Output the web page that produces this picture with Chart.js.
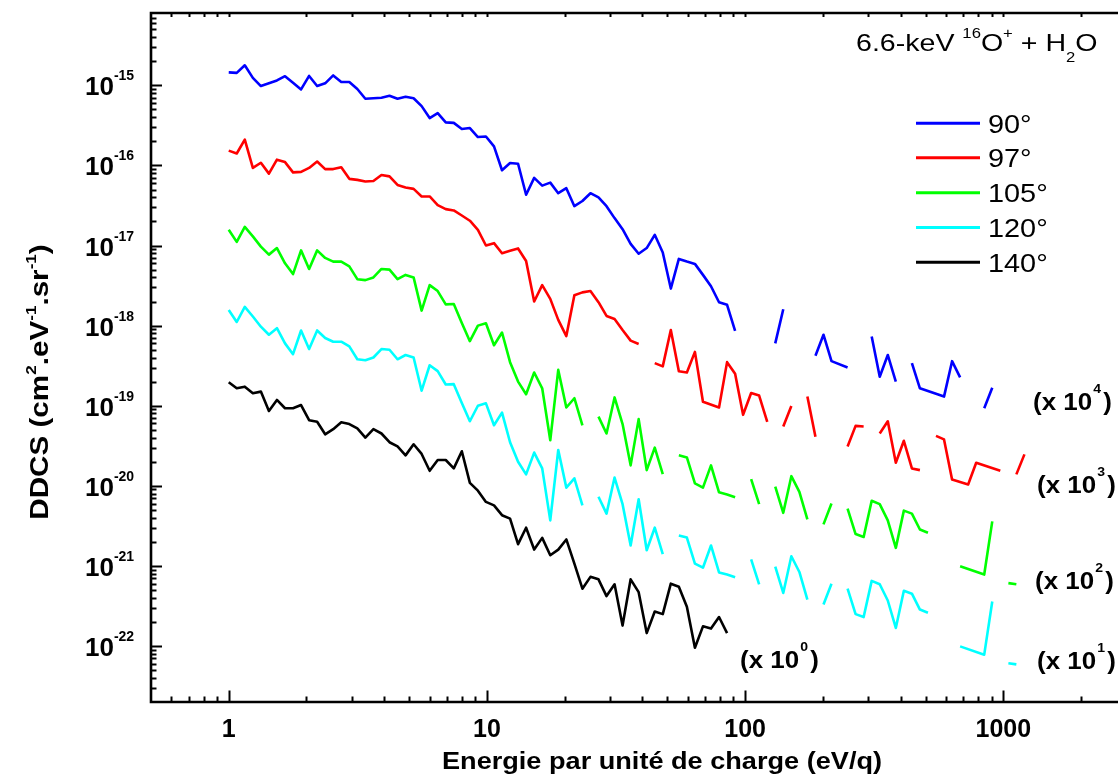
<!DOCTYPE html>
<html>
<head>
<meta charset="utf-8">
<title>DDCS 6.6-keV O+ + H2O</title>
<script src="https://cdn.jsdelivr.net/npm/chart.js"></script>
<style>
  html, body { margin: 0; padding: 0; background: #fff; overflow: hidden; }
  canvas { display: block; }
</style>
</head>
<body>
<canvas id="ddcs" width="1118" height="782"></canvas>
<script>
// energy grid (eV/q), one entry per channel
const energies = [
  1, 1.074, 1.154, 1.240, 1.332, 1.431, 1.537, 1.652, 1.774, 1.906,
  2.048, 2.200, 2.363, 2.539, 2.728, 2.931, 3.148, 3.382, 3.634, 3.904,
  4.194, 4.505, 4.840, 5.200, 5.586, 6.001, 6.447, 6.926, 7.441, 7.994,
  8.588, 9.226, 9.912, 10.65, 11.44, 12.29, 13.20, 14.18, 15.24, 16.37,
  17.59, 18.89, 20.30, 21.81, 23.43, 25.17, 27.04, 29.05, 31.21, 33.52,
  36.02, 38.69, 41.57, 44.66, 47.97, 51.54, 55.37, 59.48, 63.90, 68.65,
  73.75, 79.23, 85.12, 91.45, 98.19, 105.5, 113.3, 121.8, 130.8, 140.5,
  151.0, 162.2, 174.2, 187.2, 201.1, 216.0, 232.1, 249.3, 267.8, 287.7,
  309.1, 332.1, 356.8, 383.3, 411.8, 442.4, 475.2, 510.5, 548.5, 589.2,
  633.0, 680.1, 730.6, 784.9, 843.2, 905.9, 973.2, 1046, 1123, 1207
];

// null = trace broken, '-' = no point at that energy (trace continues)
const ddcs90 = [
  1.45e-15, 1.43e-15, 1.78e-15, 1.24e-15, 9.8e-16, 1.06e-15, 1.15e-15, 1.30e-15, 1.08e-15, 8.9e-16,
  1.31e-15, 9.8e-16, 1.06e-15, 1.33e-15, 1.10e-15, 1.10e-15, 9.0e-16, 6.8e-16, 6.9e-16, 7.0e-16,
  7.4e-16, 6.8e-16, 7.2e-16, 6.9e-16, 5.5e-16, 3.9e-16, 4.5e-16, 3.45e-16, 3.4e-16, 2.85e-16,
  2.93e-16, 2.26e-16, 2.30e-16, 1.73e-16, 8.7e-17, 1.07e-16, 1.05e-16, 4.3e-17, 7.0e-17, 5.6e-17,
  6.1e-17, 4.5e-17, 5.2e-17, 3.1e-17, 3.6e-17, 4.5e-17, 4.0e-17, 3.1e-17, 2.2e-17, 1.6e-17,
  1.05e-17, 7.9e-18, 9.3e-18, 1.36e-17, 8.2e-18, 2.9e-18, 6.8e-18, 6.3e-18, 5.9e-18, 4.3e-18,
  3.1e-18, 1.96e-18, 1.82e-18, 8.6e-19, null, null, null, null, 6.0e-19, 1.60e-18,
  null, null, null, 4.2e-19, 7.7e-19, 3.6e-19, '-', 3.0e-19, null, null,
  7.3e-19, 2.3e-19, 4.3e-19, 2.0e-19, null, 3.4e-19, 1.65e-19, '-', '-', 1.30e-19,
  3.6e-19, 2.26e-19, null, null, 9.3e-20, 1.68e-19
];

const ddcs97 = [
  1.53e-16, 1.41e-16, 2.10e-16, 9.3e-17, 1.08e-16, 7.9e-17, 1.18e-16, 1.10e-16, 8.2e-17, 8.3e-17,
  9.3e-17, 1.12e-16, 9.0e-17, 9.0e-17, 9.5e-17, 6.8e-17, 6.6e-17, 6.3e-17, 6.4e-17, 7.6e-17,
  7.3e-17, 5.7e-17, 5.3e-17, 5.1e-17, 4.1e-17, 4.1e-17, 3.2e-17, 2.85e-17, 2.74e-17, 2.37e-17,
  2.04e-17, 1.57e-17, 1.0e-17, 1.07e-17, 8.0e-18, 8.6e-18, 9.2e-18, 6.4e-18, 2.0e-18, 3.2e-18,
  2.16e-18, 1.18e-18, 7.4e-19, 2.4e-18, 2.6e-18, 2.7e-18, 1.96e-18, 1.32e-18, 1.21e-18, 8.8e-19,
  6.5e-19, 5.9e-19, null, 3.4e-19, 3.1e-19, 8.8e-19, 2.7e-19, 2.6e-19, 4.7e-19, 1.12e-19,
  '-', 9.5e-20, 3.5e-19, 2.5e-19, 7.7e-20, 1.44e-19, 1.34e-19, 6.3e-20, null, 5.5e-20,
  9.9e-20, null, 1.30e-19, 4.1e-20, null, null, null, 3.1e-20, 5.6e-20, 5.5e-20,
  null, 4.5e-20, 6.4e-20, 1.94e-20, 3.65e-20, 1.65e-20, 1.57e-20, null, 4.2e-20, 3.8e-20,
  1.20e-20, '-', 1.04e-20, 1.94e-20, '-', '-', 1.54e-20, null, 1.39e-20, 2.47e-20
];

const ddcs105 = [
  1.57e-17, 1.11e-17, 1.71e-17, 1.30e-17, 9.7e-18, 7.7e-18, 9.3e-18, 6.0e-18, 4.4e-18, 8.7e-18,
  5.1e-18, 8.7e-18, 7.0e-18, 6.3e-18, 6.3e-18, 5.5e-18, 3.8e-18, 3.7e-18, 4.0e-18, 5.1e-18,
  5.0e-18, 3.8e-18, 4.3e-18, 4.0e-18, 1.54e-18, 3.2e-18, 2.7e-18, 1.84e-18, 1.86e-18, 1.08e-18,
  6.4e-19, 1.0e-18, 1.07e-18, 5.7e-19, 8.2e-19, 3.5e-19, 2.0e-19, 1.39e-19, 2.6e-19, 1.65e-19,
  3.7e-20, 2.8e-19, 9.5e-20, 1.24e-19, 5.7e-20, null, 7.3e-20, 4.5e-20, 1.27e-19, 5.9e-20,
  1.8e-20, 6.8e-20, 1.57e-20, 3.0e-20, 1.40e-20, null, 2.4e-20, 2.26e-20, 1.07e-20, 9.5e-21,
  1.8e-20, 8.3e-21, 7.8e-21, 7.2e-21, null, 1.21e-20, 5.9e-21, null, 9.8e-21, 4.6e-21,
  1.32e-20, 8.4e-21, 3.8e-21, null, 3.3e-21, 6.0e-21, null, 5.2e-21, 2.5e-21, 2.3e-21,
  6.5e-21, 5.9e-21, 3.7e-21, 1.68e-21, 4.9e-21, 4.5e-21, 2.85e-21, 2.6e-21, null, null,
  null, 9.9e-22, '-', '-', 7.8e-22, 3.6e-21, null, 6.1e-22, 5.9e-22
];

const ddcs120 = [
  1.57e-18, 1.11e-18, 1.71e-18, 1.30e-18, 9.7e-19, 7.7e-19, 9.3e-19, 6.0e-19, 4.4e-19, 8.7e-19,
  5.1e-19, 8.7e-19, 7.0e-19, 6.3e-19, 6.3e-19, 5.5e-19, 3.8e-19, 3.7e-19, 4.0e-19, 5.1e-19,
  5.0e-19, 3.8e-19, 4.3e-19, 4.0e-19, 1.54e-19, 3.2e-19, 2.7e-19, 1.84e-19, 1.86e-19, 1.08e-19,
  6.4e-20, 1.0e-19, 1.07e-19, 5.7e-20, 8.2e-20, 3.5e-20, 2.0e-20, 1.39e-20, 2.6e-20, 1.65e-20,
  3.7e-21, 2.8e-20, 9.5e-21, 1.24e-20, 5.7e-21, null, 7.3e-21, 4.5e-21, 1.27e-20, 5.9e-21,
  1.8e-21, 6.8e-21, 1.57e-21, 3.0e-21, 1.40e-21, null, 2.4e-21, 2.26e-21, 1.07e-21, 9.5e-22,
  1.8e-21, 8.3e-22, 7.8e-22, 7.2e-22, null, 1.21e-21, 5.9e-22, null, 9.8e-22, 4.6e-22,
  1.32e-21, 8.4e-22, 3.8e-22, null, 3.3e-22, 6.0e-22, null, 5.2e-22, 2.5e-22, 2.3e-22,
  6.5e-22, 5.9e-22, 3.7e-22, 1.68e-22, 4.9e-22, 4.5e-22, 2.85e-22, 2.6e-22, null, null,
  null, 9.9e-23, '-', '-', 7.8e-23, 3.6e-22, null, 6.1e-23, 5.9e-23
];

const ddcs140 = [
  1.96e-19, 1.65e-19, 1.73e-19, 1.43e-19, 1.50e-19, 8.6e-20, 1.18e-19, 9.3e-20, 9.3e-20, 1.02e-19,
  6.6e-20, 6.3e-20, 4.4e-20, 5.1e-20, 6.2e-20, 5.9e-20, 5.2e-20, 4.0e-20, 5.1e-20, 4.5e-20,
  3.5e-20, 3.1e-20, 2.4e-20, 3.3e-20, 2.5e-20, 1.54e-20, 2.1e-20, 2.1e-20, 1.65e-20, 2.7e-20,
  1.09e-20, 8.7e-21, 6.3e-21, 5.7e-21, 4.3e-21, 3.9e-21, 1.87e-21, 3.0e-21, 1.60e-21, 2.24e-21,
  1.36e-21, 1.60e-21, 2.14e-21, 1.07e-21, 5.2e-22, 7.3e-22, 6.8e-22, 4.2e-22, 5.9e-22, 1.8e-22,
  6.8e-22, 4.7e-22, 1.45e-22, 2.7e-22, 2.5e-22, 6.0e-22, 5.5e-22, 3.1e-22, 9.5e-23, 1.76e-22,
  1.65e-22, 2.3e-22, 1.45e-22
];

const angles = ['90°', '97°', '105°', '120°', '140°'];
const colors = ['#0000ff', '#ff0000', '#00ff00', '#00ffff', '#000000'];
const series = [ddcs90, ddcs97, ddcs105, ddcs120, ddcs140];
const scaleLabels = ['4', '3', '2', '1', '0'];   // (x 10^n) next to each curve

const xTickLabels = [1, 10, 100, 1000];
const yTickExponents = [-15, -16, -17, -18, -19, -20, -21, -22];

const FONT = "'Liberation Sans', Arial, sans-serif";
function font(size, bold) {
    return (bold ? 'bold ' : '') + size + 'px ' + FONT;
}

// pieces: [text, size, bold, dy, dxAfter]
function drawRich(ctx, pieces, x, y, sx, align) {
    ctx.save();
    ctx.translate(x, y);
    ctx.scale(sx, 1);
    ctx.textAlign = 'left';
    ctx.textBaseline = 'alphabetic';
    let total = 0;
    const widths = pieces.map(p => {
        ctx.font = font(p[1], p[2]);
        const w = ctx.measureText(p[0]).width + (p[4] || 0);
        total += w;
        return w;
    });
    let cx = align === 'center' ? -total / 2 : (align === 'right' ? -total : 0);
    pieces.forEach((p, i) => {
        ctx.font = font(p[1], p[2]);
        ctx.fillText(p[0], cx, p[3] || 0);
        cx += widths[i];
    });
    ctx.restore();
}

function toPoints(values) {
    let pts = [];
    values.forEach((v, i) => {
        if (v === '-') return;
        pts.push({x: energies[i], y: v});
    });
    return pts;
}

const axesPlugin = {
    id: 'axesPlugin',
    afterDatasetsDraw(chart) {
        const ctx = chart.ctx;
        const a = chart.chartArea;
        const xs = chart.scales.x, ys = chart.scales.y;
        ctx.save();
        ctx.strokeStyle = '#000';
        ctx.lineCap = 'butt';

        // y ticks (inside, left axis)
        ctx.lineWidth = 2;
        for (let e = -23; e <= -14; e++) {
            for (let m = 1; m <= 9; m++) {
                const v = m * Math.pow(10, e);
                if (v <= ys.min * 1.0001 || v >= ys.max * 0.9999) continue;
                const y = Math.round(ys.getPixelForValue(v)) + 0.5;
                const len = m === 1 ? 11 : 5.5;
                ctx.beginPath();
                ctx.moveTo(a.left, y);
                ctx.lineTo(a.left + len, y);
                ctx.stroke();
            }
        }
        // x ticks (bottom inside, top inside)
        for (let e = -1; e <= 3; e++) {
            for (let m = 1; m <= 9; m++) {
                const v = m * Math.pow(10, e);
                if (v <= xs.min * 1.0001 || v >= xs.max * 0.9999) continue;
                const x = Math.round(xs.getPixelForValue(v)) + 0.5;
                const len = m === 1 ? 11.5 : 5.5;
                ctx.beginPath();
                ctx.moveTo(x, a.bottom);
                ctx.lineTo(x, a.bottom - len);
                ctx.moveTo(x, a.top);
                ctx.lineTo(x, a.top + 4);
                ctx.stroke();
            }
        }

        // axis lines
        ctx.lineWidth = 2.6;
        ctx.beginPath();
        ctx.moveTo(a.right, a.top);
        ctx.lineTo(a.left, a.top);
        ctx.lineTo(a.left, a.bottom);
        ctx.lineTo(a.right, a.bottom);
        ctx.stroke();
        ctx.restore();
    },
    afterDraw(chart) {
        const ctx = chart.ctx;
        const xs = chart.scales.x, ys = chart.scales.y;
        ctx.save();
        ctx.fillStyle = '#000';

        // x tick labels
        xTickLabels.forEach(v => {
            drawRich(ctx, [[String(v), 25, true]], xs.getPixelForValue(v), 737, 1, 'center');
        });
        // y tick labels
        yTickExponents.forEach(e => {
            const y = ys.getPixelForValue(Math.pow(10, e));
            drawRich(ctx, [['10', 26, true], [String(e), 14, true, -15]], 85, y + 10, 1, 'left');
        });

        // axis titles
        drawRich(ctx, [['Energie par unité de charge (eV/q)', 24, true]], 662, 769, 1.13, 'center');
        ctx.save();
        ctx.translate(48, 382);
        ctx.rotate(-Math.PI / 2);
        drawRich(ctx, [
            ['DDCS (cm', 26, true], ['2', 15, true, -12], ['.eV', 26, true], ['-1', 15, true, -12],
            ['.sr', 26, true], ['-1', 15, true, -12], [')', 26, true]
        ], 0, 0, 1.14, 'center');
        ctx.restore();

        // title
        drawRich(ctx, [
            ['6.6-keV ', 24, false], ['16', 14, false, -13], ['O', 24, false], ['+', 14, false, -13],
            [' + H', 24, false], ['2', 14, false, 11], ['O', 24, false]
        ], 856, 51, 1.19, 'left');

        // legend
        const legendY = [123.3, 157.8, 192.7, 227.4, 262.3];
        angles.forEach((lab, i) => {
            ctx.strokeStyle = colors[i];
            ctx.lineWidth = 3;
            ctx.beginPath();
            ctx.moveTo(916, legendY[i]);
            ctx.lineTo(980, legendY[i]);
            ctx.stroke();
            drawRich(ctx, [[lab, 26, false]], 988, legendY[i] + 9.5, 1.11, 'left');
        });

        // multiplier notes
        const notePos = [[1033, 410], [1037, 492.5], [1035, 588.5], [1037, 668.5], [740, 667.5]];
        scaleLabels.forEach((n, i) => {
            drawRich(ctx, [['(x 10', 24, true, 0, 1], [n, 13, true, -17, 2], [')', 24, true]],
                notePos[i][0], notePos[i][1], 1.08, 'left');
        });
        ctx.restore();
    }
};

let datasets = [];
for (let i = 0; i < series.length; i++) {
    datasets.push({
        label: angles[i],
        data: toPoints(series[i]),
        borderColor: colors[i],
        backgroundColor: colors[i],
        borderWidth: 2.6,
        pointRadius: 0,
        tension: 0,
        spanGaps: false,
        borderJoinStyle: 'round'
    });
}

let ctx = document.getElementById('ddcs').getContext('2d');
let ddcsChart = new Chart(ctx, {
    type: 'line',
    data: {datasets: datasets},
    options: {
        responsive: false,
        animation: false,
        events: [],
        layout: {padding: {left: 151, right: 0, top: 13, bottom: 80}},
        scales: {
            x: {type: 'logarithmic', min: 0.5, max: 2780, display: false},
            y: {type: 'logarithmic', min: 2e-23, max: 8e-15, display: false}
        },
        plugins: {
            legend: {display: false},
            tooltip: {enabled: false}
        }
    },
    plugins: [axesPlugin]
});
</script>
</body>
</html>
